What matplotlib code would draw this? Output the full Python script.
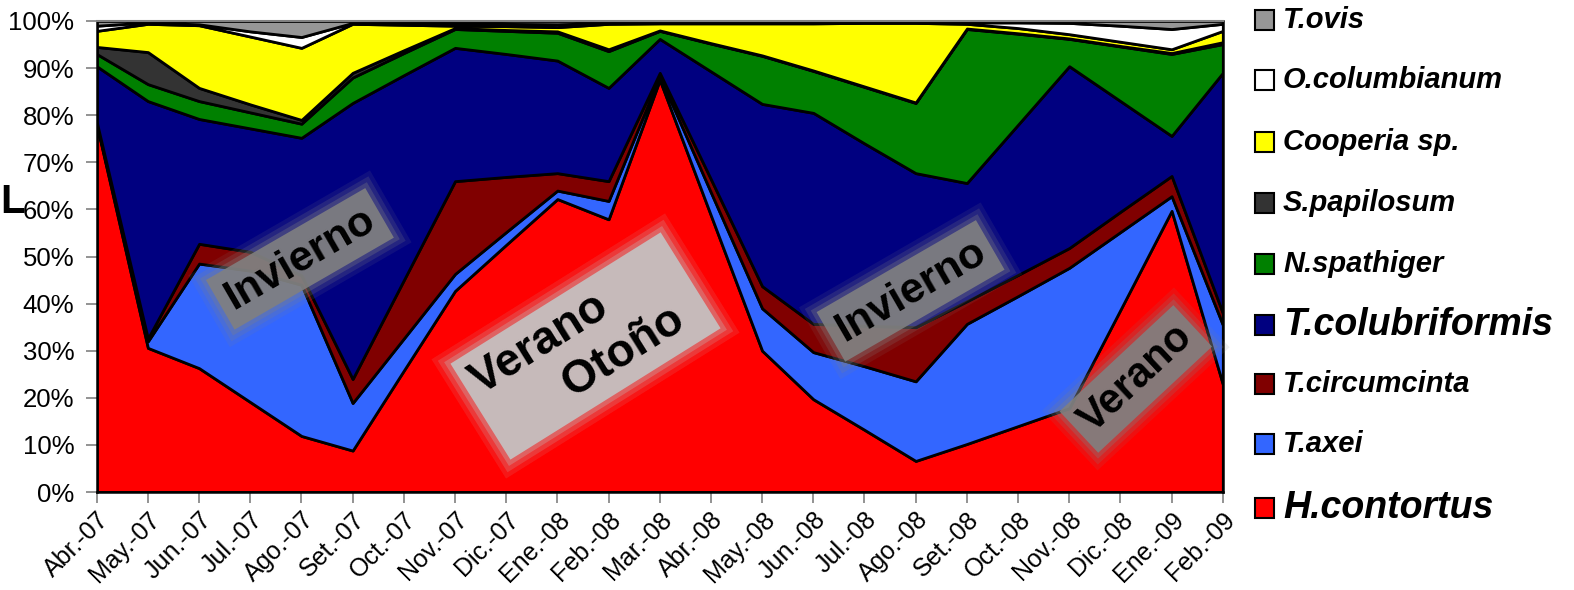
import numpy as np
import matplotlib
matplotlib.use("Agg")
import matplotlib.pyplot as plt
from matplotlib.patches import Rectangle

plt.rcParams['font.family'] = ['Liberation Sans', 'DejaVu Sans']

months = ["Abr.-07", "May.-07", "Jun.-07", "Jul.-07", "Ago.-07", "Set.-07", "Oct.-07",
          "Nov.-07", "Dic.-07", "Ene.-08", "Feb.-08", "Mar.-08", "Abr.-08", "May.-08",
          "Jun.-08", "Jul.-08", "Ago.-08", "Set.-08", "Oct.-08", "Nov.-08", "Dic.-08",
          "Ene.-09", "Feb.-09"]

h_contortus = [78, 30.6, 26.3, 19.1, 11.9, 8.8, 25.8, 42.7, 52.5, 62.2, 57.9, 87.5,
               58.7, 30, 19.7, 13.2, 6.6, 10.2, 14, 17.8, 38.7, 59.7, 22.9]
t_axei = [0.3, 1.4, 22.2, 27.9, 32.1, 10.1, 6.8, 3.6, 2.7, 1.8, 3.9, 0.8,
          4.9, 9.0, 10.0, 13.5, 16.9, 25.5, 27.6, 29.8, 16.5, 3.1, 12.6]
t_circumcinta = [0.3, 0.6, 4.2, 4.0, 2.0, 5.1, 12.4, 19.7, 11.7, 3.7, 4.2, 0.7,
                 2.8, 4.7, 6.0, 8.6, 11.5, 4.8, 4.5, 4.2, 4.3, 4.3, 2.5]
t_colubriformis = [11.8, 50.4, 26.5, 26.2, 29.2, 58.6, 43.5, 28.3, 26.1, 23.9, 19.8, 7.2,
                   22.9, 38.7, 44.8, 38.7, 32.7, 25.1, 31.9, 38.6, 23.5, 8.5, 51.0]
n_spathiger = [2.6, 3.6, 3.8, 3.4, 3.0, 5.4, 4.7, 4.0, 4.9, 5.9, 7.8, 1.7,
               5.9, 10.2, 8.9, 12.0, 14.9, 32.7, 19.3, 5.8, 11.6, 17.4, 6.1]
s_papilosum = [1.5, 6.8, 2.8, 1.7, 0.8, 1.0, 0.6, 0.2, 0.2, 0.3, 0.4, 0.1,
               0.1, 0.1, 0.1, 0.1, 0.1, 0.1, 0.1, 0.1, 0.1, 0.2, 0.4]
cooperia = [3.4, 6.0, 13.3, 14.4, 15.3, 10.4, 5.4, 0.5, 0.8, 0.9, 5.4, 1.5,
            4.2, 6.8, 10.0, 13.5, 16.9, 1.0, 1.1, 0.9, 0.9, 0.8, 2.4]
o_columbianum = [1.1, 0.3, 0.2, 1.1, 2.3, 0.2, 0.4, 0.5, 0.5, 0.6, 0.2, 0.2,
                 0.2, 0.2, 0.2, 0.2, 0.2, 0.3, 1.2, 2.4, 3.4, 4.3, 1.5]
t_ovis = [1.0, 0.3, 0.7, 2.2, 3.4, 0.4, 0.4, 0.5, 0.6, 0.7, 0.4, 0.3,
          0.3, 0.3, 0.3, 0.2, 0.2, 0.3, 0.3, 0.4, 1.0, 1.7, 0.6]

series = [h_contortus, t_axei, t_circumcinta, t_colubriformis, n_spathiger,
          s_papilosum, cooperia, o_columbianum, t_ovis]
labels = ["H.contortus", "T.axei", "T.circumcinta", "T.colubriformis", "N.spathiger",
          "S.papilosum", "Cooperia sp.", "O.columbianum", "T.ovis"]
colors = ["#FF0000", "#3366FF", "#800000", "#000080", "#008000",
          "#333333", "#FFFF00", "#FFFFFF", "#969696"]
label_sizes = [27, 21, 21, 27, 21, 21, 21, 21, 21]

W, H = 1574, 590
fig = plt.figure(figsize=(W / 100, H / 100), dpi=100)
ax = fig.add_axes([96.7 / W, 1 - 492 / H, (1222.8 - 96.7) / W, (492 - 21) / H])

x = np.arange(len(months))
data = np.array(series, dtype=float)
data = data / data.sum(axis=0) * 100
ax.stackplot(x, data, colors=colors, edgecolor="black", linewidth=2.0)

ax.set_xlim(0, len(months) - 1)
ax.set_ylim(0, 100)
ax.set_yticks(np.arange(0, 101, 10))
ax.set_yticklabels([f"{v}%" for v in range(0, 101, 10)])
ax.set_xticks(x)
ax.set_xticklabels(months, rotation=45, ha="right", rotation_mode="anchor")
ax.tick_params(axis="y", length=8, width=1.2, color="#808080", labelsize=18.5, pad=8)
ax.tick_params(axis="x", length=8, width=1.2, color="#808080", labelsize=18, pad=3)
for s in ["left", "right", "bottom"]:
    ax.spines[s].set_color("black")
    ax.spines[s].set_linewidth(1.8)
ax.spines["top"].set_color("#808080")
ax.spines["top"].set_linewidth(1.5)


def season(xv, yv, text, rot, boxcolor, fs, pad=0.2, ma="center"):
    for p, a in [(pad + 0.3, 0.12), (pad + 0.2, 0.2), (pad + 0.1, 0.3)]:
        ax.text(xv, yv, text, rotation=rot, fontsize=fs, fontweight="bold",
                color=(0, 0, 0, 0), ha="center", va="center", multialignment=ma,
                rotation_mode="anchor", zorder=5,
                bbox=dict(boxstyle=f"square,pad={p}", fc=boxcolor, ec="none", alpha=a))
    ax.text(xv, yv, text, rotation=rot, fontsize=fs, fontweight="bold",
            color="black", ha="center", va="center", multialignment=ma,
            rotation_mode="anchor", zorder=6,
            bbox=dict(boxstyle=f"square,pad={pad}", fc=boxcolor, ec="none", alpha=0.9))


season(3.97, 49.5, "Invierno", 30, "#808080", 31)
season(9.55, 31.0, "Verano      \n      Otoño", 32, "#C4C4C4", 33, pad=0.2, ma="left")
season(15.9, 42.7, "Invierno", 30, "#808080", 31)
season(20.3, 24.0, "Verano", 43, "#808080", 30)

# legend (top to bottom)
centers = [20, 80, 142, 203, 264, 325, 384, 444, 508]
for i, cy in enumerate(centers):
    k = len(series) - 1 - i
    fig.patches.append(Rectangle(((1255) / W, 1 - (cy + 10) / H), 19 / W, 20 / H,
                                 transform=fig.transFigure, fc=colors[k], ec="black",
                                 lw=1.5, zorder=3))
    fig.text(1283 / W, 1 - cy / H, labels[k], fontsize=label_sizes[k],
             fontweight="bold", style="italic", ha="left", va="center")

fig.text(0.0, 1 - 202 / H, "L", fontsize=29, fontweight="bold", ha="left", va="center")

fig.savefig("out.png", dpi=100, facecolor="white")
